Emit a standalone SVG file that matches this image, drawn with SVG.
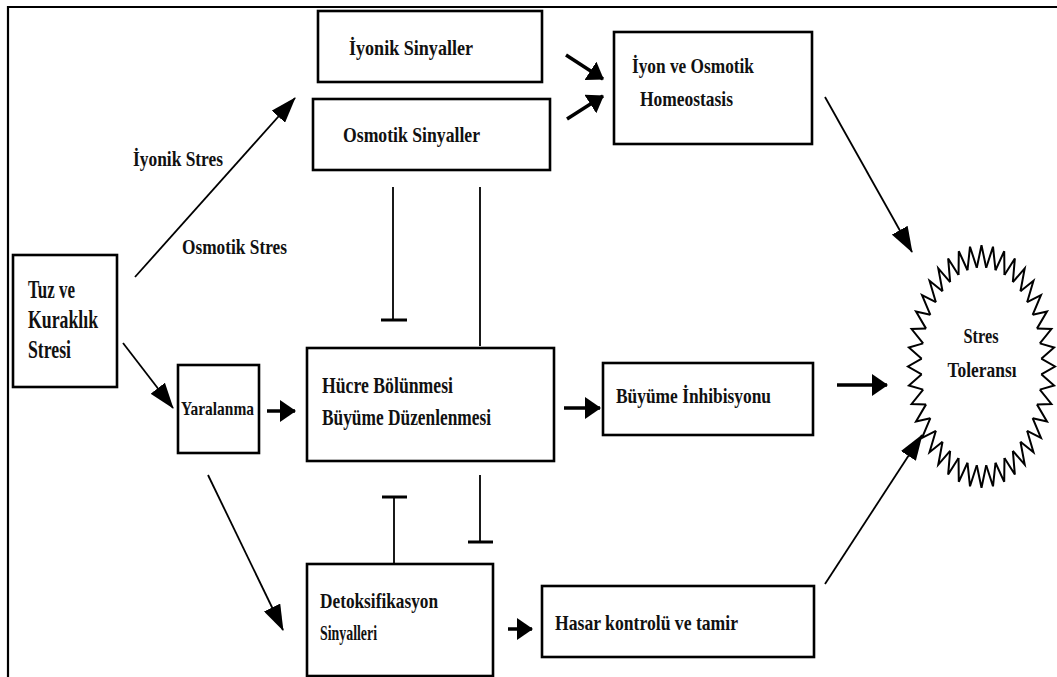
<svg xmlns="http://www.w3.org/2000/svg" xmlns:xlink="http://www.w3.org/1999/xlink" width="1057" height="677" viewBox="0 0 1057 677">
<style>
.box{fill:#fff;stroke:#000;stroke-width:2.6}
.t{font-family:"Liberation Serif","Times New Roman",serif;font-weight:bold;fill:#111}
.ln{stroke:#000;stroke-width:1.8;fill:none}
.thk{stroke:#000;stroke-width:3.5;fill:none}
.bar{stroke:#000;stroke-width:3;fill:none}
.spk{fill:none;stroke:#000;stroke-width:2;stroke-linejoin:miter;vector-effect:non-scaling-stroke}
</style>
<defs>
<marker id="big" markerUnits="userSpaceOnUse" viewBox="0 0 26 18" markerWidth="26" markerHeight="18" refX="25" refY="9" orient="auto"><path d="M0,0 L26,9 L0,18 Z" fill="#000"/></marker>
<marker id="sm" markerUnits="userSpaceOnUse" viewBox="0 0 16 22" markerWidth="16" markerHeight="22" refX="15" refY="11" orient="auto"><path d="M0,0 L16,11 L0,22 Z" fill="#000"/></marker>
<path id="spike" class="spk" d="M-4.71,-59.81 L0,-73.5 L4.71,-59.81"/>
</defs>
<rect x="0" y="0" width="1057" height="677" fill="#fff"/>
<path d="M8,677 V7 H1057" fill="none" stroke="#000" stroke-width="2.2"/>

<g id="connectors">
<line class="ln" x1="135" y1="277" x2="295" y2="98" marker-end="url(#big)"/>
<line class="ln" x1="123" y1="343" x2="173" y2="408" marker-end="url(#big)"/>
<line class="ln" x1="208" y1="475" x2="283" y2="630" marker-end="url(#big)"/>
<line class="ln" x1="825" y1="97" x2="912" y2="252" marker-end="url(#big)"/>
<line class="ln" x1="825" y1="584" x2="922" y2="435" marker-end="url(#big)"/>
<line class="thk" x1="267" y1="411" x2="295" y2="411" marker-end="url(#sm)"/>
<line class="thk" x1="564" y1="408" x2="600" y2="408" marker-end="url(#sm)"/>
<line class="thk" x1="837" y1="385" x2="887" y2="385" marker-end="url(#sm)"/>
<line class="thk" x1="508" y1="629" x2="532" y2="629" marker-end="url(#sm)"/>
<line class="thk" x1="566" y1="55" x2="603" y2="79" marker-end="url(#sm)"/>
<line class="thk" x1="567" y1="119" x2="603" y2="96" marker-end="url(#sm)"/>
<line class="ln" x1="393" y1="187" x2="393" y2="320"/>
<line class="bar" x1="381" y1="320" x2="407" y2="320"/>
<line class="ln" x1="480" y1="187" x2="480" y2="346"/>
<line class="ln" x1="394" y1="564" x2="394" y2="497"/>
<line class="bar" x1="382" y1="497" x2="407" y2="497"/>
<line class="ln" x1="480" y1="475" x2="480" y2="542"/>
<line class="bar" x1="468" y1="542" x2="493" y2="542"/>
</g>

<g id="label-iyonik-stres"><text class="t" x="133" y="166" font-size="22" textLength="90" lengthAdjust="spacingAndGlyphs">İyonik Stres</text></g>
<g id="label-osmotik-stres"><text class="t" x="182" y="254" font-size="22" textLength="105" lengthAdjust="spacingAndGlyphs">Osmotik Stres</text></g>

<g id="node-iyonik-sinyaller">
<rect class="box" x="318" y="11" width="224" height="71"/>
<text class="t" x="349" y="55" font-size="22" textLength="124" lengthAdjust="spacingAndGlyphs">İyonik Sinyaller</text>
</g>
<g id="node-osmotik-sinyaller">
<rect class="box" x="313" y="99" width="237" height="71"/>
<text class="t" x="343" y="142" font-size="22" textLength="137" lengthAdjust="spacingAndGlyphs">Osmotik Sinyaller</text>
</g>
<g id="node-homeostasis">
<rect class="box" x="614" y="32" width="198" height="112"/>
<text class="t" x="632" y="73" font-size="22" textLength="122" lengthAdjust="spacingAndGlyphs">İyon ve Osmotik</text>
<text class="t" x="640" y="106" font-size="22" textLength="93" lengthAdjust="spacingAndGlyphs">Homeostasis</text>
</g>
<g id="node-tuz">
<rect class="box" x="13" y="255" width="104" height="132"/>
<text class="t" x="28" y="298" font-size="25" textLength="47" lengthAdjust="spacingAndGlyphs">Tuz ve</text>
<text class="t" x="28" y="328" font-size="25" textLength="70" lengthAdjust="spacingAndGlyphs">Kuraklık</text>
<text class="t" x="28" y="358" font-size="25" textLength="43" lengthAdjust="spacingAndGlyphs">Stresi</text>
</g>
<g id="node-yaralanma">
<rect class="box" x="178" y="365" width="81" height="88"/>
<text class="t" x="181" y="415" font-size="19" textLength="73" lengthAdjust="spacingAndGlyphs">Yaralanma</text>
</g>
<g id="node-hucre">
<rect class="box" x="307" y="348" width="247" height="113"/>
<text class="t" x="322" y="393" font-size="24" textLength="131" lengthAdjust="spacingAndGlyphs">Hücre Bölünmesi</text>
<text class="t" x="322" y="425" font-size="24" textLength="169" lengthAdjust="spacingAndGlyphs">Büyüme Düzenlenmesi</text>
</g>
<g id="node-buyume">
<rect class="box" x="603" y="363" width="210" height="72"/>
<text class="t" x="616" y="403" font-size="22" textLength="155" lengthAdjust="spacingAndGlyphs">Büyüme İnhibisyonu</text>
</g>
<g id="node-detoks">
<rect class="box" x="307" y="564" width="186" height="112"/>
<text class="t" x="320" y="608" font-size="22" textLength="118" lengthAdjust="spacingAndGlyphs">Detoksifikasyon</text>
<text class="t" x="320" y="640" font-size="22" textLength="57" lengthAdjust="spacingAndGlyphs">Sinyalleri</text>
</g>
<g id="node-hasar">
<rect class="box" x="542" y="586" width="272" height="71"/>
<text class="t" x="555" y="630" font-size="22" textLength="183" lengthAdjust="spacingAndGlyphs">Hasar kontrolü ve tamir</text>
</g>
<g id="node-stres-toleransi">
<g transform="translate(981.5,366.5) scale(1,1.65)">
<use xlink:href="#spike" transform="rotate(0)"/><use xlink:href="#spike" transform="rotate(9)"/><use xlink:href="#spike" transform="rotate(18)"/><use xlink:href="#spike" transform="rotate(27)"/><use xlink:href="#spike" transform="rotate(36)"/><use xlink:href="#spike" transform="rotate(45)"/><use xlink:href="#spike" transform="rotate(54)"/><use xlink:href="#spike" transform="rotate(63)"/><use xlink:href="#spike" transform="rotate(72)"/><use xlink:href="#spike" transform="rotate(81)"/>
<use xlink:href="#spike" transform="rotate(90)"/><use xlink:href="#spike" transform="rotate(99)"/><use xlink:href="#spike" transform="rotate(108)"/><use xlink:href="#spike" transform="rotate(117)"/><use xlink:href="#spike" transform="rotate(126)"/><use xlink:href="#spike" transform="rotate(135)"/><use xlink:href="#spike" transform="rotate(144)"/><use xlink:href="#spike" transform="rotate(153)"/><use xlink:href="#spike" transform="rotate(162)"/><use xlink:href="#spike" transform="rotate(171)"/>
<use xlink:href="#spike" transform="rotate(180)"/><use xlink:href="#spike" transform="rotate(189)"/><use xlink:href="#spike" transform="rotate(198)"/><use xlink:href="#spike" transform="rotate(207)"/><use xlink:href="#spike" transform="rotate(216)"/><use xlink:href="#spike" transform="rotate(225)"/><use xlink:href="#spike" transform="rotate(234)"/><use xlink:href="#spike" transform="rotate(243)"/><use xlink:href="#spike" transform="rotate(252)"/><use xlink:href="#spike" transform="rotate(261)"/>
<use xlink:href="#spike" transform="rotate(270)"/><use xlink:href="#spike" transform="rotate(279)"/><use xlink:href="#spike" transform="rotate(288)"/><use xlink:href="#spike" transform="rotate(297)"/><use xlink:href="#spike" transform="rotate(306)"/><use xlink:href="#spike" transform="rotate(315)"/><use xlink:href="#spike" transform="rotate(324)"/><use xlink:href="#spike" transform="rotate(333)"/><use xlink:href="#spike" transform="rotate(342)"/><use xlink:href="#spike" transform="rotate(351)"/>
</g>
<text class="t" x="981" y="343" font-size="20" text-anchor="middle" textLength="35" lengthAdjust="spacingAndGlyphs">Stres</text>
<text class="t" x="982" y="377" font-size="20" text-anchor="middle" textLength="69" lengthAdjust="spacingAndGlyphs">Toleransı</text>
</g>
</svg>
